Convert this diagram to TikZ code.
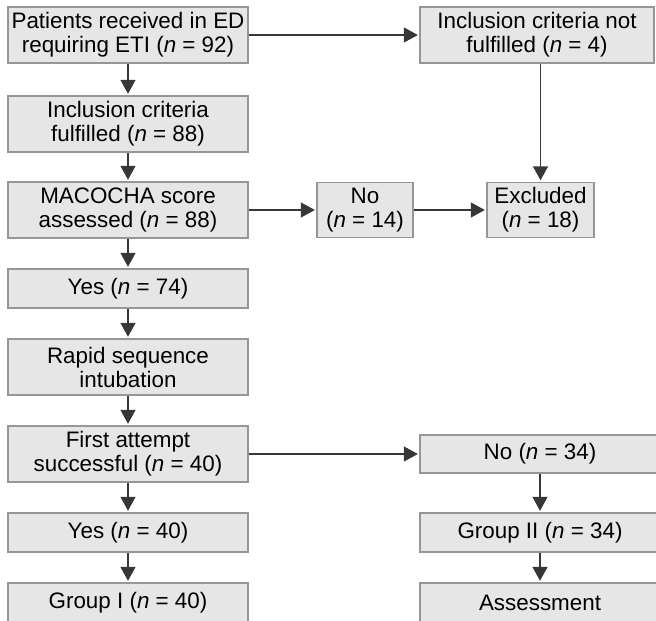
\documentclass[tikz,border=0pt]{standalone}
\usepackage{fontspec}
\setmainfont{Liberation Sans}
\usetikzlibrary{arrows.meta}

\begin{document}
\begin{tikzpicture}[x=0.5pt,y=0.5pt,yscale=-1,xscale=1,
  box/.style={draw={rgb,255:red,150;green,150;blue,150}, fill={rgb,255:red,230;green,230;blue,230}, line width=0.6pt, inner sep=0pt, align=center, font=\fontsize{11.2}{12}\selectfont},
  flow/.style={draw={rgb,255:red,55;green,55;blue,55}, line width=0.7pt, shorten >=0.8pt, -{Triangle[width=7.5pt,length=7pt]}}]
\clip (0,0) rectangle (656,620);

% Left column
\node (patients) [box, minimum width=120pt, minimum height=28pt] at (128,35) {Patients received in ED\\requiring ETI (\textit{n} = 92)};
\node (fulfilled) [box, minimum width=120pt, minimum height=28pt] at (128,124) {Inclusion criteria\\fulfilled (\textit{n} = 88)};
\node (macocha) [box, minimum width=120pt, minimum height=28pt] at (128,210) {MACOCHA score\\assessed (\textit{n} = 88)};
\node (yesA) [box, minimum width=120pt, minimum height=19.5pt] at (128,288.5) {Yes (\textit{n} = 74)};
\node (rapid) [box, minimum width=120pt, minimum height=28pt] at (128,367) {Rapid sequence\\intubation};
\node (first) [box, minimum width=120pt, minimum height=28pt] at (128,454) {First attempt\\successful (\textit{n} = 40)};
\node (yesB) [box, minimum width=120pt, minimum height=19.5pt] at (128,532.5) {Yes (\textit{n} = 40)};
\node (groupI) [box, minimum width=120pt, minimum height=19.5pt] at (128,602.5) {Group I (\textit{n} = 40)};

% Right side
\node (notfulfilled) [box, minimum width=117pt, minimum height=28pt] at (537,35) {Inclusion criteria not\\fulfilled (\textit{n} = 4)};
\node (noA) [box, minimum width=48pt, minimum height=27.5pt] at (365,210) {No\\(\textit{n} = 14)};
\node (excluded) [box, minimum width=53.5pt, minimum height=27.5pt] at (540.5,210) {Excluded\\(\textit{n} = 18)};
\node (noB) [box, minimum width=120pt, minimum height=19pt] at (540,454) {No (\textit{n} = 34)};
\node (groupII) [box, minimum width=120pt, minimum height=19.5pt] at (540,532.5) {Group II (\textit{n} = 34)};
\node (assess) [box, minimum width=120pt, minimum height=19.5pt] at (540,602.5) {Assessment};

% Connectors
\draw [flow] (patients) -- (fulfilled);
\draw [flow] (fulfilled) -- (macocha);
\draw [flow] (macocha) -- (yesA);
\draw [flow] (yesA) -- (rapid);
\draw [flow] (rapid) -- (first);
\draw [flow] (first) -- (yesB);
\draw [flow] (yesB) -- (groupI);
\draw [flow] (patients) -- (notfulfilled);
\draw [flow] (notfulfilled.south -| excluded.north) -- (excluded.north);
\draw [flow] (macocha) -- (noA);
\draw [flow] (noA) -- (excluded);
\draw [flow] (first) -- (noB);
\draw [flow] (noB) -- (groupII);
\draw [flow] (groupII) -- (assess);
\end{tikzpicture}
\end{document}
